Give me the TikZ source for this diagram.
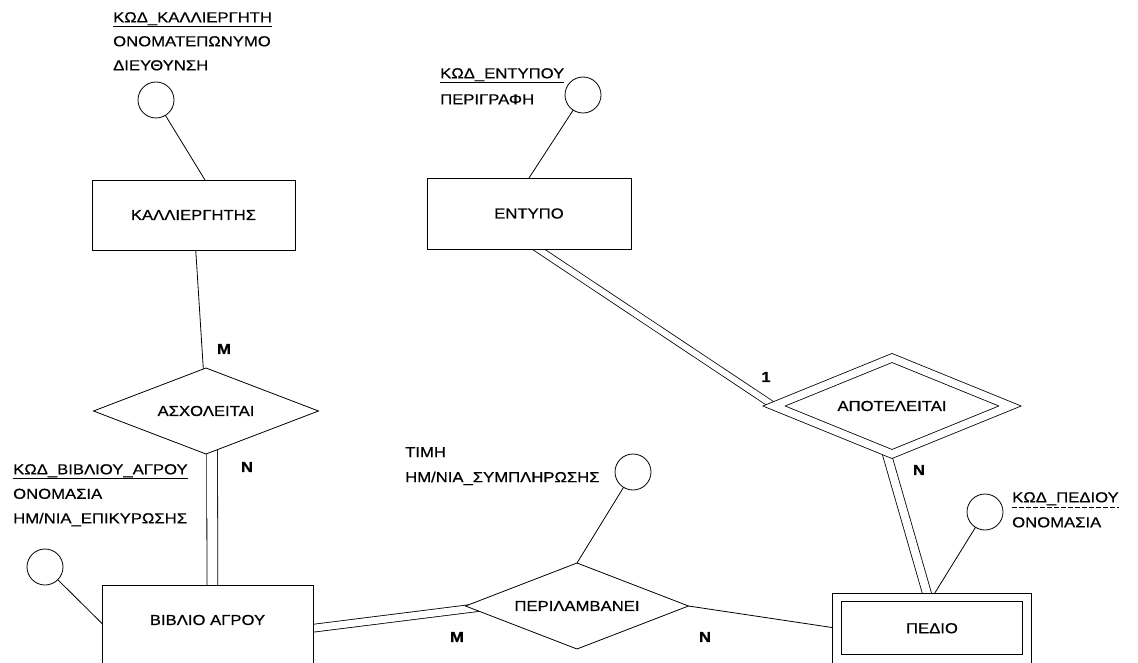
\documentclass[tikz,border=0pt]{standalone}
\usepackage{fontspec}
\setmainfont{Liberation Sans}[FakeStretch=1.15, FakeBold=0.6]
\usetikzlibrary{shapes.geometric,calc}
\pgfdeclarelayer{background}
\pgfsetlayers{background,main}

\tikzset{
  lbl/.style={font=\fontsize{14.5}{17}\selectfont},
  entity/.style={lbl, draw, rectangle, line width=0.8pt, fill=white,
    inner sep=0pt, outer sep=0pt},
  weakentity/.style={entity, double, double distance=7.5pt},
  rel/.style={lbl, draw, diamond, aspect=2.6, line width=0.8pt, fill=white,
    inner sep=0pt, outer sep=0pt},
  weakrel/.style={rel, double, double distance=7.5pt},
  attr/.style={draw, circle, line width=0.8pt, fill=white,
    minimum size=36pt, inner sep=0pt, outer sep=0pt},
  attrlist/.style={align=left, anchor=north west, inner sep=0pt,
    font=\fontsize{14.5}{#1}\selectfont},
  card/.style={font=\fontsize{14.5}{17}\selectfont\bfseries, inner sep=0pt},
  link/.style={line width=0.8pt},
  total/.style={line width=0.8pt, double, double distance=#1},
  partialkey/.style={line width=0.8pt, dash pattern=on 5pt off 2pt},
}

\begin{document}
\begin{tikzpicture}[x=1pt,y=-1pt]
\useasboundingbox (0,0) rectangle (1138,663);
\clip (0,0) rectangle (1138,663);

% entities
\node[entity, minimum width=203pt, minimum height=70pt] (kall) at (193.5,215) {ΚΑΛΛΙΕΡΓΗΤΗΣ};
\node[entity, minimum width=204pt, minimum height=71pt] (entypo) at (529,213.5) {ΕΝΤΥΠΟ};
\node[entity, minimum width=211pt, minimum height=85pt,
      label={[lbl, yshift=7.5pt]center:ΒΙΒΛΙΟ ΑΓΡΟΥ}] (biblio) at (207.5,627.5) {};
\node[weakentity, minimum width=190pt, minimum height=61.5pt] (pedio) at (932,628.25) {ΠΕΔΙΟ};

% relationships
\node[rel, minimum width=225pt, minimum height=86pt] (asx) at (206,411) {ΑΣΧΟΛΕΙΤΑΙ};
\node[rel, minimum width=223pt, minimum height=86pt] (peril) at (577,606) {ΠΕΡΙΛΑΜΒΑΝΕΙ};
\node[weakrel, minimum width=236pt, minimum height=96pt] (apot) at (892,406) {ΑΠΟΤΕΛΕΙΤΑΙ};

% attribute circles
\node[attr] (kallc) at (156,100) {};
\node[attr] (entc) at (583,95) {};
\node[attr] (bibc) at (45,567) {};
\node[attr] (perc) at (633,472) {};
\node[attr] (pedc) at (985,512) {};

% attribute lists
\node[attrlist=24pt] (kallattr) at (113,12)
  {\underline{ΚΩΔ\_ΚΑΛΛΙΕΡΓΗΤΗ}\\ ΟΝΟΜΑΤΕΠΩΝΥΜΟ\\ ΔΙΕΥΘΥΝΣΗ};
\node[attrlist=26pt] (entattr) at (440,68)
  {\underline{ΚΩΔ\_ΕΝΤΥΠΟΥ}\\ ΠΕΡΙΓΡΑΦΗ};
\node[attrlist=24.5pt] (bibattr) at (13,464)
  {\underline{ΚΩΔ\_ΒΙΒΛΙΟΥ\_ΑΓΡΟΥ}\\ ΟΝΟΜΑΣΙΑ\\ ΗΜ/ΝΙΑ\_ΕΠΙΚΥΡΩΣΗΣ};
\node[attrlist=25pt] (perattr) at (405,447)
  {ΤΙΜΗ\\ ΗΜ/ΝΙΑ\_ΣΥΜΠΛΗΡΩΣΗΣ};
\node[attrlist=25pt] (pedkey) at (1012,492) {ΚΩΔ\_ΠΕΔΙΟΥ};
\node[attrlist=25pt] (pedname) at (1012,517) {ΟΝΟΜΑΣΙΑ};
\draw[partialkey] ($(pedkey.south west)+(0,2)$) -- ($(pedkey.south east)+(0,2)$);

% cardinalities
\node[card] (cm1) at (224,349) {M};
\node[card] (cn1) at (247,467) {N};
\node[card] (c1)  at (766,377) {1};
\node[card] (cn2) at (919,470) {N};
\node[card] (cm2) at (457,637) {M};
\node[card] (cn3) at (705,637) {N};

% connectors, kept behind the white-filled shapes
\begin{pgfonlayer}{background}
  \draw[link] (kallc.center) -- ([xshift=11.5pt]kall.north);
  \draw[link] (kall.center) -- (asx.center);
  \draw[total=10pt] ([xshift=6pt]asx.center) -- ([xshift=5pt]biblio.center);
  \draw[link] (bibc.center) -- ([yshift=4pt]biblio.west);
  \draw[total=7pt] ($(biblio.east)+(-10,2)$) -- ($(peril.west)+(25,0)$);
  \draw[link] (perc.center) -- (peril.north);
  \draw[link] (peril.east) -- (pedio.west);
  \draw[link] (entc.center) -- (entypo.north);
  \draw[total=6pt] ($(entypo.south)+(-6,-10)$) -- (apot.west);
  \draw[total=8pt] ($(apot.center)+(-19,0)$) -- ($(pedio.center)+(5,0)$);
  \draw[link] (pedc.center) -- (pedio.north);
\end{pgfonlayer}
\end{tikzpicture}
\end{document}
